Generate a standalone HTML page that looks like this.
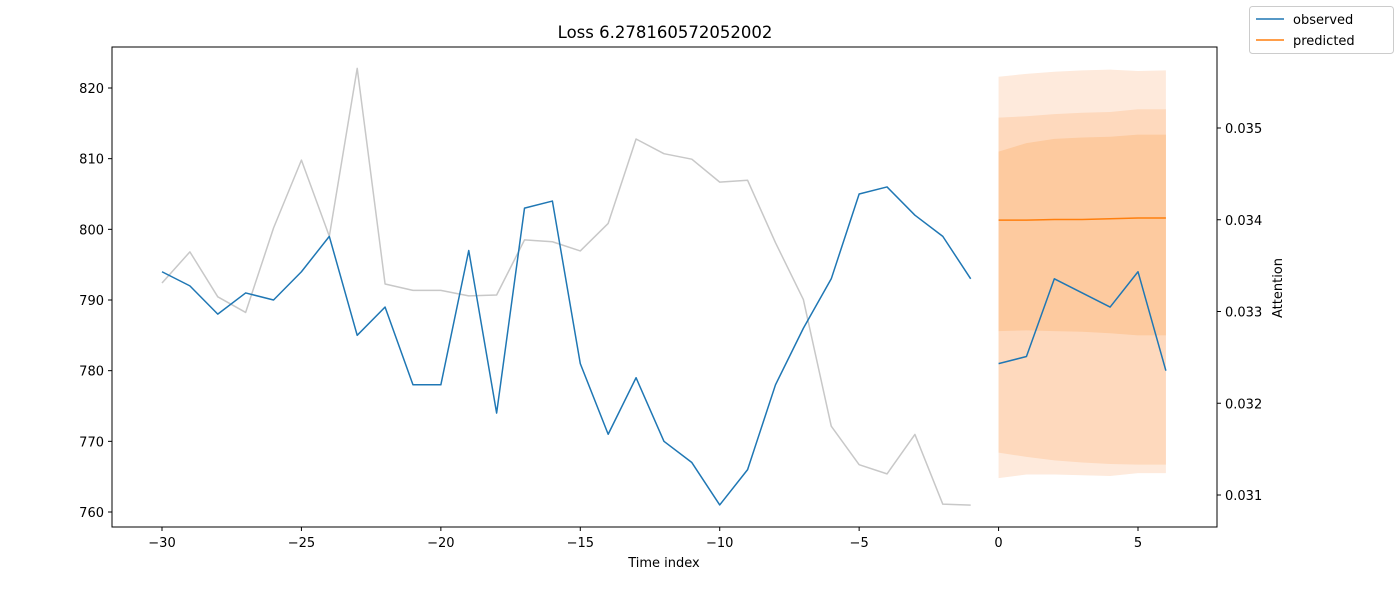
<!DOCTYPE html>
<html><head><meta charset="utf-8"><style>
body{margin:0;background:#fff;}
text{font-family:"DejaVu Sans","Liberation Sans",sans-serif;font-size:13px;fill:#000;}
</style></head><body>
<svg id="chart" width="1400" height="600" xmlns="http://www.w3.org/2000/svg">
<g id="plot"></g>
<rect x="112" y="47" width="1105" height="480" fill="none" stroke="#000" stroke-width="1"/>
<text x="665" y="38" text-anchor="middle" style="font-size:16.5px">Loss 6.278160572052002</text>
<text x="664" y="567" text-anchor="middle">Time index</text>
<text x="1282" y="288" text-anchor="middle" transform="rotate(-90 1282 288)">Attention</text>
<g id="xticks"></g>
<g id="yticks"></g>
<g id="rticks"></g>
<g>
<rect x="1249.5" y="6.5" width="144" height="47" rx="3" fill="#fff" stroke="#ccc"/>
<line x1="1256" y1="19" x2="1284" y2="19" stroke="#1f77b4" stroke-width="1.5"/>
<text x="1293" y="24">observed</text>
<line x1="1256" y1="40" x2="1284" y2="40" stroke="#ff7f0e" stroke-width="1.5"/>
<text x="1293" y="45">predicted</text>
</g>
</svg>
<script>
const obsX = [-30,-29,-28,-27,-26,-25,-24,-23,-22,-21,-20,-19,-18,-17,-16,-15,-14,-13,-12,-11,-10,-9,-8,-7,-6,-5,-4,-3,-2,-1];
const obsY = [794,792,788,791,790,794,799,785,789,778,778,797,774,803,804,781,771,779,770,767,761,766,778,786,793,805,806,802,799,793];
const attn = [0.03331,0.03365,0.03316,0.03299,0.03391,0.03465,0.03382,0.03565,0.03330,0.03323,0.03323,0.03317,0.03318,0.03378,0.03376,0.03366,0.03396,0.03488,0.03472,0.03466,0.03441,0.03443,0.03375,0.03313,0.03175,0.03133,0.03123,0.03166,0.03090,0.03089];
const futX = [0,1,2,3,4,5,6];
const futObs = [781,782,793,791,789,794,780];
const pred = [801.3,801.3,801.4,801.4,801.5,801.6,801.6];
const outerHi = [821.6,822.0,822.3,822.5,822.6,822.4,822.5];
const outerLo = [764.8,765.3,765.3,765.2,765.1,765.5,765.5];
const midHi = [815.8,816.0,816.3,816.5,816.6,817.0,817.0];
const midLo = [768.4,767.8,767.3,767.0,766.8,766.7,766.7];
const innHi = [811.0,812.2,812.8,813.0,813.1,813.4,813.4];
const innLo = [785.6,785.7,785.6,785.5,785.3,785.0,785.0];
const xTicks = [-30,-25,-20,-15,-10,-5,0,5];
const yTicks = [760,770,780,790,800,810,820];
const rTicks = [0.031,0.032,0.033,0.034,0.035];

const NS='http://www.w3.org/2000/svg';
const X = v => 162 + (v+30)*(1138-162)/35;
const Y = v => 512 - (v-760)*(424/60);
const R = v => 495 - (v-0.031)*(367/0.004);
function mk(tag, attrs, parent){const e=document.createElementNS(NS,tag);for(const k in attrs)e.setAttribute(k,attrs[k]);parent.appendChild(e);return e;}
const plot=document.getElementById('plot');
function band(hi,lo,color,name){
  let d='M'+futX.map((x,i)=>X(x)+','+Y(hi[i])).join('L');
  d+='L'+futX.slice().reverse().map((x,j)=>{const i=futX.length-1-j;return X(x)+','+Y(lo[i]);}).join('L')+'Z';
  const p=mk('path',{d:d,fill:color},plot);
  
  
}
band(outerHi,outerLo,'#feeadc','band-outer');
band(midHi,midLo,'#fed9bd','band-middle');
band(innHi,innLo,'#fdca9f','band-inner');
function line(xs,ys,fy,color,name){
  const p=mk('polyline',{points:xs.map((x,i)=>X(x)+','+fy(ys[i])).join(' '),fill:'none',stroke:color,'stroke-width':1.5,'stroke-linejoin':'round'},plot);
  
  
}
line(obsX,attn,R,'#c8c8c8','attention-line');
line(obsX,obsY,Y,'#1f77b4','observed-line');
line(futX,futObs,Y,'#1f77b4','observed-future-line');
line(futX,pred,Y,'#ff7f0e','predicted-line');
const xg=document.getElementById('xticks');
xTicks.forEach(t=>{mk('line',{x1:X(t),x2:X(t),y1:527,y2:531,stroke:'#000'},xg);
  const tx=mk('text',{x:X(t),y:547,'text-anchor':'middle'},xg);tx.textContent=t<0?'\u2212'+(-t):t;
  
  });
const yg=document.getElementById('yticks');
yTicks.forEach(t=>{mk('line',{x1:108,x2:112,y1:Y(t),y2:Y(t),stroke:'#000'},yg);
  const tx=mk('text',{x:104,y:Y(t)+5,'text-anchor':'end'},yg);tx.textContent=t;
  
  });
const rg=document.getElementById('rticks');
rTicks.forEach(t=>{mk('line',{x1:1217,x2:1221,y1:R(t),y2:R(t),stroke:'#000'},rg);
  const tx=mk('text',{x:1225,y:R(t)+5},rg);tx.textContent=t.toFixed(3);
  
  });
</script>
</body></html>
